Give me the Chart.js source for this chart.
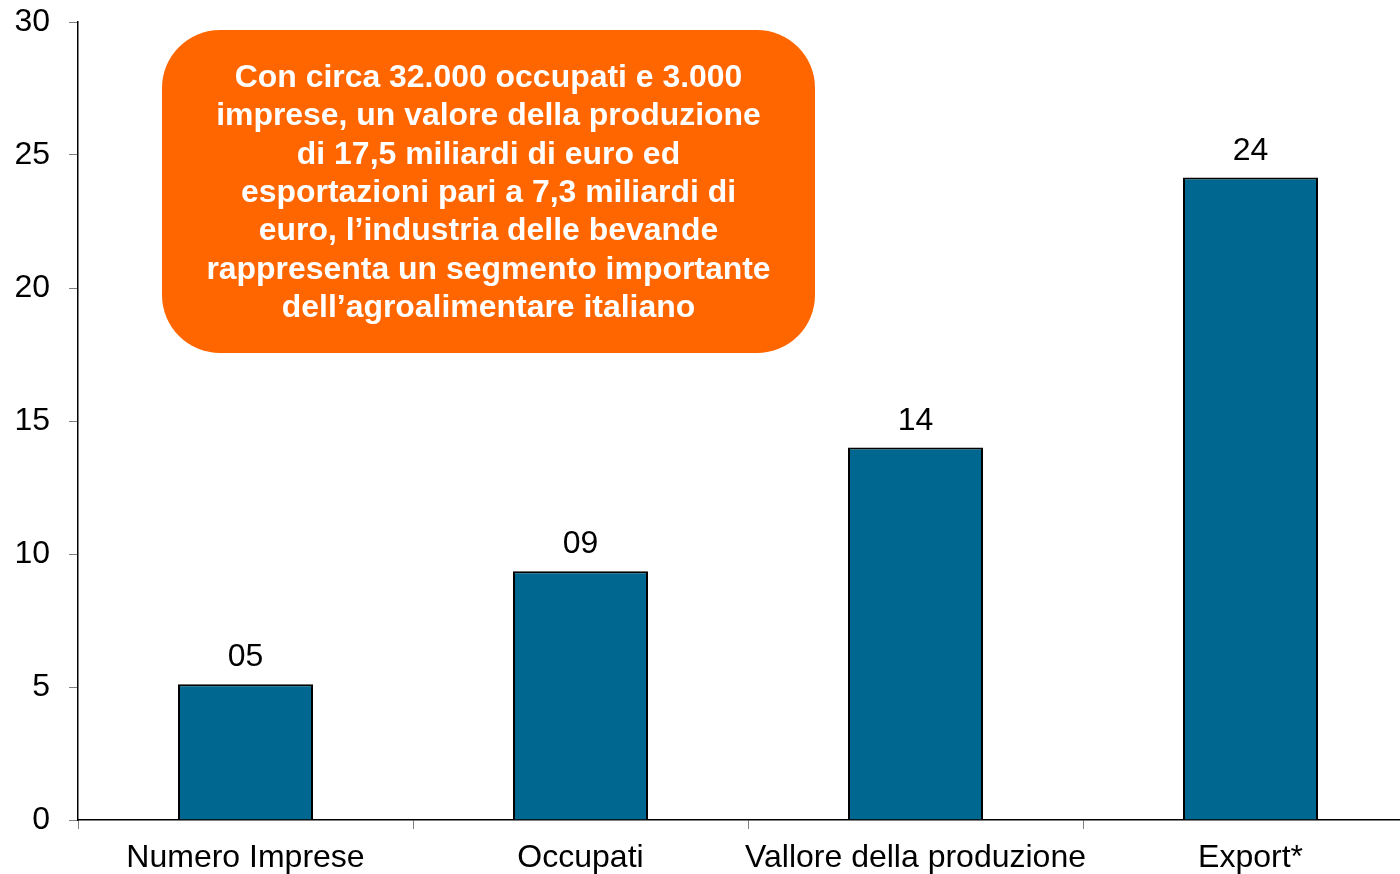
<!DOCTYPE html>
<html>
<head>
<meta charset="utf-8">
<script src="https://cdn.jsdelivr.net/npm/chart.js@4.4.0/dist/chart.umd.min.js"></script>
<style>
  html, body { margin: 0; padding: 0; background: #fff; overflow: hidden; }
  #wrap { width: 1418px; height: 874px; }
</style>
</head>
<body>
<div id="wrap"><canvas id="barChart" width="1418" height="874"></canvas></div>
<script>
// Dati
const categories = ['Numero Imprese', 'Occupati', 'Vallore della produzione', 'Export*'];
const values = [5.1, 9.35, 14, 24.15];
const yTicks = [0, 5, 10, 15, 20, 25, 30];

const noteLines = [
    'Con circa 32.000 occupati e 3.000',
    'imprese, un valore della produzione',
    'di 17,5 miliardi di euro ed',
    'esportazioni pari a 7,3 miliardi di',
    'euro, l\u2019industria delle bevande',
    'rappresenta un segmento importante',
    'dell\u2019agroalimentare italiano'
];

const FONT = '"Liberation Sans", Arial, sans-serif';

// Etichette sopra le barre ("05", "09", ...)
const valueLabels = {
    id: 'valueLabels',
    afterDatasetsDraw(chart) {
        const ctx = chart.ctx;
        const meta = chart.getDatasetMeta(0);
        ctx.save();
        ctx.font = '32px ' + FONT;
        ctx.fillStyle = '#000';
        ctx.textAlign = 'center';
        ctx.textBaseline = 'alphabetic';
        meta.data.forEach((bar, i) => {
            const txt = String(Math.round(values[i])).padStart(2, '0');
            ctx.fillText(txt, bar.x, bar.y - 18);
        });
        ctx.restore();
    }
};

// Riquadro arancione con il testo
const noteBox = {
    id: 'noteBox',
    afterDraw(chart) {
        const ctx = chart.ctx;
        const x = 162, y = 30, w = 653, h = 323, r = 58;
        ctx.save();
        ctx.fillStyle = '#FF6600';
        ctx.beginPath();
        ctx.roundRect(x, y, w, h, r);
        ctx.fill();
        ctx.fillStyle = '#fff';
        ctx.font = 'bold 31px ' + FONT;
        ctx.textAlign = 'center';
        ctx.textBaseline = 'alphabetic';
        const cx = x + w / 2;
        ctx.translate(cx, 0);
        ctx.scale(1.03, 1);
        noteLines.forEach((line, i) => {
            ctx.fillText(line, 0, 87 + i * 38.3);
        });
        ctx.restore();
    }
};

new Chart(document.getElementById('barChart'), {
    type: 'bar',
    data: {
        labels: categories,
        datasets: [{
            data: values,
            backgroundColor: '#006890',
            borderColor: '#000',
            borderWidth: 2,
            categoryPercentage: 1,
            barPercentage: 0.403
        }]
    },
    options: {
        responsive: false,
        animation: false,
        layout: { padding: { top: 22, left: 0, right: 0, bottom: 0 } },
        plugins: {
            legend: { display: false },
            tooltip: { enabled: false }
        },
        scales: {
            x: {
                afterFit: (scale) => { scale.height = 54; },
                grid: {
                    drawOnChartArea: false,
                    tickLength: 9,
                    tickColor: '#808080',
                    offset: true
                },
                border: { color: '#000', width: 1.5 },
                ticks: {
                    color: '#000',
                    font: { family: FONT, size: 32 },
                    padding: 10,
                    maxRotation: 0,
                    autoSkip: false
                }
            },
            y: {
                min: 0,
                max: 30,
                afterFit: (scale) => {
                    scale.width = 78;
                    scale.paddingTop = 0;
                    scale.paddingBottom = 0;
                },
                afterBuildTicks: (scale) => {
                    scale.ticks = yTicks.map(v => ({ value: v }));
                },
                grid: {
                    drawOnChartArea: false,
                    tickLength: 9,
                    tickColor: '#808080'
                },
                border: { color: '#000', width: 1.5 },
                ticks: {
                    color: '#000',
                    font: { family: FONT, size: 32 },
                    padding: 19
                }
            }
        }
    },
    plugins: [valueLabels, noteBox]
});
</script>
</body>
</html>
